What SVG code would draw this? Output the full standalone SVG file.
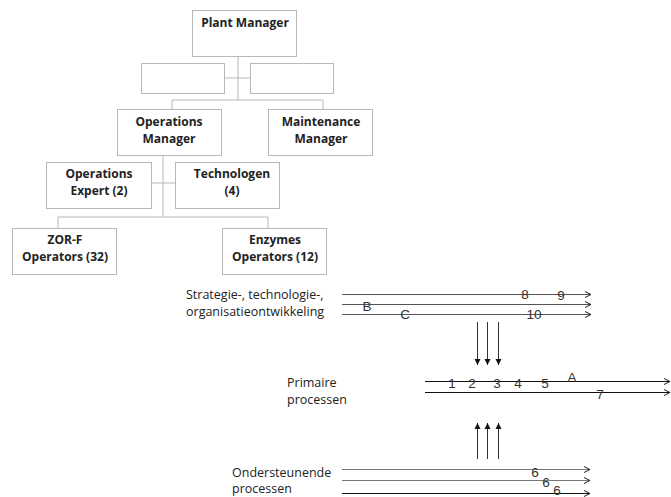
<svg xmlns="http://www.w3.org/2000/svg" width="671" height="497" viewBox="0 0 671 497">
<style>
.box{fill:#fff;stroke:#b8b8b8;stroke-width:1}
.conn{stroke:#b8b8b8;stroke-width:1;fill:none}
.bt{font-family:"Open Sans","Liberation Sans",sans-serif;font-weight:bold;font-size:12px;fill:#222;text-anchor:middle}
.lt{font-family:"Open Sans","Liberation Sans",sans-serif;font-size:12.5px;fill:#222}
.num{font-family:"Liberation Sans",Arial,sans-serif;font-size:13.5px;fill:#333}
.ln{stroke:#555;stroke-width:1;fill:none}
.lnb{stroke:#111;stroke-width:1;fill:none}
.lng{stroke:#777;stroke-width:1;fill:none}
.va{stroke:#333;stroke-width:1;fill:none}
</style>
<defs>
<marker id="open" markerWidth="8" markerHeight="8" refX="6" refY="4" orient="auto" markerUnits="userSpaceOnUse">
<path d="M0,1 L6,4 L0,7" fill="none" stroke="#222" stroke-width="1"/>
</marker>
<marker id="fill" markerWidth="8" markerHeight="8" refX="6" refY="4" orient="auto" markerUnits="userSpaceOnUse">
<path d="M0,1 L6,4 L0,7 Z" fill="#111"/>
</marker>
</defs>
<g id="connectors">
<path class="conn" d="M238,57 V100 M225,78 H250 M172,109 V100 H323 V109"/>
<path class="conn" d="M163,156 V217 M152,183 H175 M58,228 V217 H268 V228"/>
</g>
<g id="plant-manager"><rect class="box" x="192.500" y="10.500" width="104" height="46"/><text class="bt" x="245" y="27">Plant Manager</text></g>
<g id="empty-left"><rect class="box" x="141.500" y="63.500" width="83" height="30"/></g>
<g id="empty-right"><rect class="box" x="250.500" y="63.500" width="83" height="30"/></g>
<g id="operations-manager"><rect class="box" x="117.500" y="109.500" width="104" height="46"/><text class="bt" x="169" y="126">Operations</text><text class="bt" x="169" y="143">Manager</text></g>
<g id="maintenance-manager"><rect class="box" x="268.500" y="109.500" width="104" height="46"/><text class="bt" x="321" y="126">Maintenance</text><text class="bt" x="321" y="143">Manager</text></g>
<g id="operations-expert"><rect class="box" x="46.500" y="162.500" width="105" height="46"/><text class="bt" x="99" y="178">Operations</text><text class="bt" x="99" y="195">Expert (2)</text></g>
<g id="technologen"><rect class="box" x="175.500" y="162.500" width="104" height="46"/><text class="bt" x="232" y="178">Technologen</text><text class="bt" x="232" y="195">(4)</text></g>
<g id="zor-f"><rect class="box" x="12.500" y="228.500" width="104" height="46"/><text class="bt" x="65" y="244">ZOR-F</text><text class="bt" x="65" y="261">Operators (32)</text></g>
<g id="enzymes"><rect class="box" x="222.500" y="228.500" width="104" height="46"/><text class="bt" x="275" y="244">Enzymes</text><text class="bt" x="275" y="261">Operators (12)</text></g>

<g id="strategie">
<text class="lt" x="186" y="299">Strategie-, technologie-,</text>
<text class="lt" x="186" y="316">organisatieontwikkeling</text>
<path class="ln" d="M342,294.500 H591" marker-end="url(#open)"/>
<path class="ln" d="M342,304.500 H591" marker-end="url(#open)"/>
<path class="ln" d="M342,314.500 H591" marker-end="url(#open)"/>
<text class="num" x="525" y="299" text-anchor="middle">8</text>
<text class="num" x="561" y="300" text-anchor="middle">9</text>
<text class="num" x="367" y="311" text-anchor="middle">B</text>
<text class="num" x="405" y="319" text-anchor="middle">C</text>
<text class="num" x="534" y="319" text-anchor="middle">10</text>
</g>
<g id="down-arrows">
<path class="va" d="M477.500,322 V365" marker-end="url(#fill)"/>
<path class="va" d="M487.500,322 V365" marker-end="url(#fill)"/>
<path class="va" d="M498.500,322 V365" marker-end="url(#fill)"/>
</g>
<g id="primaire">
<text class="lt" x="287" y="387">Primaire</text>
<text class="lt" x="287" y="404">processen</text>
<path class="lnb" d="M425,381.500 H670" marker-end="url(#open)"/>
<path class="lnb" d="M425,392.500 H670" marker-end="url(#open)"/>
<text class="num" x="452" y="388" text-anchor="middle">1</text>
<text class="num" x="472" y="388" text-anchor="middle">2</text>
<text class="num" x="497" y="388" text-anchor="middle">3</text>
<text class="num" x="518" y="388" text-anchor="middle">4</text>
<text class="num" x="545" y="388" text-anchor="middle">5</text>
<text class="num" x="572" y="382" text-anchor="middle">A</text>
<text class="num" x="600" y="399" text-anchor="middle">7</text>
</g>
<g id="up-arrows">
<path class="va" d="M477.500,459 V423" marker-end="url(#fill)"/>
<path class="va" d="M487.500,459 V423" marker-end="url(#fill)"/>
<path class="va" d="M498.500,459 V423" marker-end="url(#fill)"/>
</g>
<g id="ondersteunende">
<text class="lt" x="232" y="477">Ondersteunende</text>
<text class="lt" x="232" y="493">processen</text>
<path class="lng" d="M342,469.500 H590" marker-end="url(#open)"/>
<path class="lng" d="M342,480.500 H590" marker-end="url(#open)"/>
<path class="lnb" d="M342,493.500 H590" marker-end="url(#open)"/>
<text class="num" x="535" y="477" text-anchor="middle">6</text>
<text class="num" x="546" y="487" text-anchor="middle">6</text>
<text class="num" x="557" y="495" text-anchor="middle">6</text>
</g>
</svg>
